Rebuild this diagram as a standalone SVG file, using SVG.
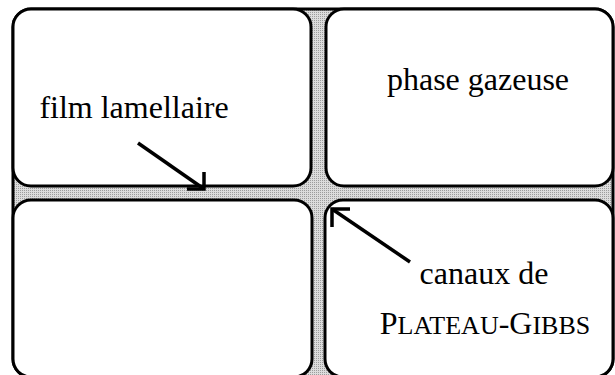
<svg xmlns="http://www.w3.org/2000/svg" width="615" height="375" viewBox="0 0 615 375">
  <defs>
    <!-- halftone shading for the liquid channels -->
    <pattern id="liquid" width="2" height="2" patternUnits="userSpaceOnUse">
      <rect width="2" height="2" fill="#dcdcdc"/>
      <rect width="1" height="1" fill="#9c9c9c"/>
    </pattern>
    <style>
      .frame { fill: url(#liquid); stroke: #000; stroke-width: 3; }
      .cell { fill: #fff; stroke: #000; stroke-width: 3; }
      .label { font-family: "Liberation Serif", "Times New Roman", serif; font-size: 32px; fill: #000; text-anchor: middle; }
      .arrow { fill: none; stroke: #000; stroke-width: 3.5; stroke-linecap: butt; stroke-linejoin: miter; }
    </style>
  </defs>

  <rect id="foam-frame" class="frame" x="13" y="9" width="600" height="368" rx="18" ry="18"/>

  <g id="cell-top-left">
    <rect class="cell" x="13" y="9" width="298" height="177" rx="18" ry="18"/>
    <text class="label" x="134" y="118">film lamellaire</text>
  </g>

  <g id="cell-top-right">
    <rect class="cell" x="326" y="9" width="287" height="177" rx="18" ry="18"/>
    <text class="label" x="478" y="90">phase gazeuse</text>
  </g>

  <g id="cell-bottom-left">
    <rect class="cell" x="13" y="200" width="299" height="177" rx="18" ry="18"/>
  </g>

  <g id="cell-bottom-right">
    <rect class="cell" x="325" y="200" width="288" height="177" rx="18" ry="18"/>
    <text class="label" x="484" y="284">canaux de</text>
    <text class="label" x="485" y="334">P<tspan font-size="26">LATEAU</tspan>-G<tspan font-size="26">IBBS</tspan></text>
  </g>

  <g id="connectors">
    <!-- film pointer: into the horizontal channel -->
    <line class="arrow" x1="138" y1="143" x2="204" y2="189"/>
    <path class="arrow" d="M187,189 L204,189 L204,172"/>
    <!-- Plateau-Gibbs pointer: into the channel junction -->
    <line class="arrow" x1="410" y1="262" x2="332" y2="209"/>
    <path class="arrow" d="M350,209 L332,209 L332,227"/>
  </g>
</svg>
